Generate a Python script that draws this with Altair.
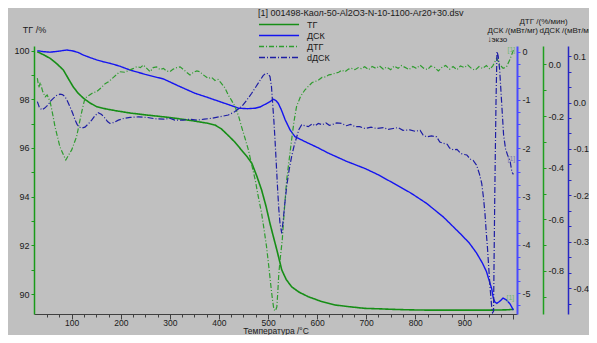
import altair as alt
import pandas as pd

FONT = "Liberation Sans Narrow, Arial Narrow, Liberation Sans, Arial, sans-serif"
FS = 9

# ---------------- data ----------------
T_TG = [30, 45, 56, 70, 83, 93, 103, 113, 124, 137,
        151, 170, 192, 220, 253, 290, 321, 351, 375, 392,
        405, 418, 432, 446, 457, 467, 477, 487, 496, 504,
        511, 518, 523, 528, 537, 548, 563, 582, 608, 637,
        665, 698, 730, 755, 790, 823, 870, 920, 959, 985, 1000]
TG = [99.95, 99.8, 99.68, 99.45, 99.2, 98.85, 98.51, 98.25, 98.04, 97.85,
      97.69, 97.6, 97.52, 97.43, 97.35, 97.27, 97.19, 97.1, 97.02, 96.94,
      96.78, 96.53, 96.25, 95.91, 95.65, 95.37, 94.85, 94.27, 93.6, 92.9,
      92.35, 91.81, 91.4, 90.99, 90.6, 90.3, 90.08, 89.89, 89.7, 89.55,
      89.48, 89.41, 89.39, 89.37, 89.35, 89.34, 89.34, 89.34, 89.34, 89.35, 89.37]

T_DSC = [30, 43, 56, 73, 90, 103, 114, 124, 137, 151,
         165, 178, 198, 219, 250, 287, 320, 351, 372, 392,
         415, 440, 458, 474, 485, 494, 503, 511, 516, 521,
         527, 535, 545, 555, 575, 600, 623, 660, 698, 725,
         755, 790, 823, 857, 891, 910, 925, 937, 945, 951,
         956, 959, 962, 966, 972, 979, 986, 993, 1000]
DSC = [0.02, 0.0, -0.01, 0.01, 0.035, 0.015, -0.02, -0.07, -0.12, -0.17,
       -0.21, -0.24, -0.3, -0.38, -0.47, -0.565, -0.72, -0.86, -0.93, -1.0,
       -1.08, -1.17, -1.18, -1.17, -1.14, -1.09, -1.04, -0.985, -1.01, -1.07,
       -1.2, -1.41, -1.62, -1.76, -1.86, -1.98, -2.1, -2.27, -2.42, -2.55,
       -2.72, -2.92, -3.14, -3.42, -3.76, -3.96, -4.17, -4.38, -4.55, -4.75,
       -4.92, -5.1, -5.18, -5.21, -5.17, -5.1, -5.14, -5.22, -5.35]

T_DTG = [30, 33, 36, 41, 46, 50, 56, 61, 66, 71,
         76, 82, 88, 94, 100, 105, 110, 117, 122, 127,
         135, 143, 151, 160, 168, 175, 185, 198, 208, 219,
         226, 233, 240, 246, 253, 260, 266, 273, 280, 287,
         293, 300, 307, 314, 321, 328, 334, 341, 348, 355,
         361, 368, 378, 385, 392, 398, 405, 412, 419, 426,
         433, 440, 446, 453, 460, 467, 474, 480, 487, 492,
         497, 502, 506, 509, 512, 515, 518, 520, 522, 525,
         529, 533, 538, 543, 548, 553, 558, 566, 575, 582,
         590, 597, 603, 610, 617, 624, 630, 637, 644, 650,
         657, 664, 670, 677, 684, 690, 697, 705, 712, 720,
         727, 735, 742, 750, 757, 765, 772, 780, 787, 795,
         802, 810, 817, 825, 832, 840, 847, 855, 862, 870,
         877, 885, 892, 900, 907, 915, 922, 930, 937, 945,
         952, 958, 966, 972, 979, 986, 993, 1000]
DTG = [-0.053, -0.09, -0.07, -0.105, -0.125, -0.118, -0.144, -0.19, -0.241, -0.28,
       -0.319, -0.345, -0.37, -0.35, -0.331, -0.305, -0.28, -0.215, -0.17, -0.131,
       -0.12, -0.11, -0.105, -0.09, -0.075, -0.067, -0.05, -0.028, -0.03, -0.021,
       -0.015, -0.008, -0.012, -0.002, -0.015, -0.028, -0.012, -0.009, -0.02, -0.015,
       -0.025, -0.028, -0.018, -0.012, -0.009, -0.02, -0.03, -0.041, -0.03, -0.025,
       -0.028, -0.04, -0.054, -0.05, -0.062, -0.058, -0.073, -0.09, -0.118, -0.14,
       -0.164, -0.2, -0.241, -0.285, -0.331, -0.39, -0.448, -0.51, -0.577, -0.64,
       -0.706, -0.79, -0.861, -0.91, -0.95, -0.955, -0.939, -0.88, -0.81, -0.75,
       -0.68, -0.57, -0.448, -0.37, -0.293, -0.22, -0.164, -0.125, -0.099, -0.085,
       -0.07, -0.065, -0.06, -0.05, -0.048, -0.04, -0.038, -0.034, -0.03, -0.022,
       -0.028, -0.018, -0.015, -0.02, -0.012, -0.016, -0.009, -0.02, -0.008, -0.015,
       -0.005, -0.018, -0.01, -0.02, -0.006, -0.015, -0.004, -0.012, -0.02, -0.008,
       -0.015, -0.003, -0.014, -0.02, -0.006, -0.012, -0.025, -0.01, -0.004, -0.018,
       -0.008, -0.02, -0.006, -0.012, -0.002, -0.016, -0.022, -0.008, -0.015, -0.004,
       -0.018, -0.005, 0.024, 0.0, -0.015, -0.009, 0.02, 0.056]

T_DDSC = [30, 34, 39, 45, 52, 57, 62.5, 69, 76, 81,
          86, 91, 96.5, 102, 107, 111, 115.5, 121, 127, 134,
          140.7, 147, 154, 161, 168, 173, 178, 186, 195, 207,
          219, 236, 253, 270, 287, 300, 310, 327, 340, 355,
          370, 385, 400, 419, 432, 446, 456, 466.8, 476, 484,
          490, 495.4, 500, 504, 507, 509, 512, 514.3, 517, 519.7,
          522, 524.4, 528, 531, 534, 538, 543, 548, 553, 558.5,
          563, 568.6, 575, 582, 590, 596, 602.5, 610, 618, 625,
          630, 640, 650, 660, 668, 677.5, 687, 697.6, 710, 721,
          735, 745, 755, 765, 775, 789, 800, 810, 816, 823,
          833, 843.5, 850, 857, 865, 870, 877.5, 885, 893, 900,
          905, 912, 918, 925, 931, 935.4, 939, 942, 945, 947,
          950, 952.3, 955.7, 957.5, 959.5, 962, 964.5, 966.5, 969, 972,
          976, 980, 984, 988, 993, 997, 1000]
DDSC = [0.002, -0.01, -0.016, -0.012, -0.005, 0.003, 0.009, 0.015, 0.018, 0.017,
        0.013, 0.004, -0.009, -0.023, -0.038, -0.047, -0.053, -0.055, -0.053, -0.046,
        -0.038, -0.029, -0.022, -0.026, -0.034, -0.041, -0.045, -0.043, -0.038, -0.034,
        -0.032, -0.031, -0.032, -0.035, -0.036, -0.034, -0.038, -0.038, -0.036, -0.038,
        -0.036, -0.034, -0.031, -0.027, -0.02, -0.009, 0.004, 0.02, 0.035, 0.048,
        0.058, 0.063, 0.062, 0.056, 0.035, 0.005, -0.04, -0.081, -0.135, -0.189,
        -0.23, -0.26, -0.282, -0.253, -0.22, -0.181, -0.145, -0.117, -0.094, -0.074,
        -0.058, -0.048, -0.05, -0.052, -0.046, -0.05, -0.045, -0.048, -0.044, -0.049,
        -0.048, -0.044, -0.045, -0.05, -0.047, -0.052, -0.052, -0.056, -0.053, -0.056,
        -0.054, -0.058, -0.056, -0.054, -0.06, -0.059, -0.062, -0.06, -0.07, -0.074,
        -0.072, -0.074, -0.085, -0.088, -0.09, -0.098, -0.102, -0.101, -0.11, -0.112,
        -0.113, -0.122, -0.125, -0.135, -0.155, -0.174, -0.205, -0.239, -0.285, -0.311,
        -0.36, -0.397, -0.44, -0.453, -0.45, -0.2, 0.0, 0.11, 0.1, 0.07,
        0.0, -0.07, -0.1, -0.113, -0.125, -0.15, -0.155]

SERIES = ["ТГ", "ДСК", "ДТГ", "dДСК"]
COLORS = ["#168e16", "#1414f0", "#2f9c2f", "#1e1ea4"]
DASHES = [[1, 0], [1, 0], [5, 2, 1, 2], [6, 2, 1, 2]]
LEGEND_TITLE = "[1] 001498-Каол-50-Al2O3-N-10-1100-Ar20+30.dsv"

X_DOMAIN = [23.2, 1007.3]
X_TICKS = list(range(50, 1001, 25))
X_MAJOR = list(range(100, 1001, 100))
TG_DOMAIN = [89.18, 100.185]
TG_TICKS = list(range(90, 101))
DSC_DOMAIN = [-5.431, 0.118]
DSC_TICKS = [0.0] + [-k * 0.25 for k in range(1, 22)]
DTG_DOMAIN = [-0.967, 0.0717]
DTG_TICKS = [0.0] + [-k / 10 for k in range(1, 10)]
DDSC_DOMAIN = [-0.4558, 0.1218]
DDSC_TICKS = [0.1 - k / 30 for k in range(0, 17)]

MINUS = "\u2212"

# ---------------- chart ----------------
legend = alt.Legend(
    title=LEGEND_TITLE, orient="none", legendX=224, legendY=-37,
    symbolType="M-1,0H7.9", symbolSize=81, symbolStrokeWidth=1.3,
    labelOffset=38, rowPadding=0, padding=0, titlePadding=1,
    titleFont=FONT, titleFontSize=FS, titleFontWeight="normal", titleColor="#1a1a1a",
    titleLimit=400, labelFont=FONT, labelFontSize=FS, labelColor="#1a1a1a",
)
color_enc = alt.Color("series:N", scale=alt.Scale(domain=SERIES, range=COLORS), legend=legend)
dash_enc = alt.StrokeDash("series:N", scale=alt.Scale(domain=SERIES, range=DASHES), legend=legend)


def xscale():
    return alt.Scale(domain=X_DOMAIN, nice=False, zero=False)


# main x axis: minor ticks every 25 degrees, labels at 100..900
x_axis = alt.Axis(
    values=X_TICKS, title="Температура /°C", grid=False, labelOverlap=False,
    labelExpr="datum.value % 100 === 0 && datum.value < 1000 ? toString(datum.value) : ''",
    tickSize=3, orient="bottom",
    domainColor="#404040", tickColor="#404040", labelColor="#1a1a1a",
    labelFont=FONT, labelFontSize=8.5, titleFont=FONT, titleFontSize=8.5,
    titleFontWeight="normal", titleColor="#1a1a1a", labelPadding=1, titlePadding=0,
)
# second x axis on an identical scale: the longer ticks at every 100 degrees
x_major_axis = alt.Axis(
    values=X_MAJOR, orient="bottom", labels=False, domain=False, grid=False,
    tickSize=5, tickColor="#404040", title="",
)


def yaxis(orient, offset, values, label_expr, color, title, tx, ty, talign, width, tfs):
    return alt.Axis(
        orient=orient, offset=offset, values=values, grid=False,
        labelOverlap=False, labelExpr=label_expr, tickSize=3,
        domainColor=color, tickColor=color, domainWidth=width, tickWidth=1,
        labelColor="#1a1a1a", labelFont=FONT, labelFontSize=FS, labelPadding=2,
        title=title, titleAngle=0, titleX=tx, titleY=ty, titleAlign=talign,
        titleBaseline="top", titleFont=FONT, titleFontSize=tfs, titleFontWeight="normal",
        titleColor="#1a1a1a", titleLineHeight=9,
    )


def line_layer(T, V, name, domain, axis, width, xaxis):
    df = pd.DataFrame({"T": T, "v": V, "series": name})
    return alt.Chart(df).mark_line(strokeWidth=width, clip=True).encode(
        x=alt.X("T:Q", scale=xscale(), axis=xaxis),
        y=alt.Y("v:Q", scale=alt.Scale(domain=domain, nice=False, zero=False), axis=axis),
        color=color_enc,
        strokeDash=dash_enc,
        order=alt.Order("T:Q"),
    )


def end_label(T, V, domain, color, dx, dy, xaxis):
    end = pd.DataFrame({"T": [T[-1]], "v": [V[-1]], "label": ["[1]"]})
    return alt.Chart(end).mark_text(
        font=FONT, fontSize=7, color=color, dx=dx, dy=dy, align="center", baseline="middle"
    ).encode(
        x=alt.X("T:Q", scale=xscale(), axis=xaxis),
        y=alt.Y("v:Q", scale=alt.Scale(domain=domain, nice=False, zero=False), axis=None),
        text="label:N",
    )


tg_line = line_layer(
    T_TG, TG, "ТГ", TG_DOMAIN,
    yaxis("left", 0, TG_TICKS, "datum.value % 2 === 0 ? toString(datum.value) : ''",
          "#1a9a1a", "ТГ /%", 0, -21, "center", 1.5, FS),
    1.6, x_axis)
dsc_line = line_layer(
    T_DSC, DSC, "ДСК", DSC_DOMAIN,
    yaxis("right", 0, DSC_TICKS,
          "abs(datum.value - round(datum.value)) < 0.001 ? toString(abs(round(datum.value)) > 0 ? round(datum.value) : 0) : ''",
          "#4a4aff", ["ДСК /(мВт/мг)", "↓экзо"], -30, -20, "left", 2, 8),
    1.4, None)
dtg_line = line_layer(
    T_DTG, DTG, "ДТГ", DTG_DOMAIN,
    yaxis("right", 26, DTG_TICKS,
          f"abs(round(datum.value * 10)) % 2 === 0 ? replace(format(datum.value, '.1f'), '{MINUS}', '-') : ''",
          "#1f9f1f", "ДТГ /(%/мин)", 0, -29, "center", 1.5, 8),
    1.2, None)
ddsc_line = line_layer(
    T_DDSC, DDSC, "dДСК", DDSC_DOMAIN,
    yaxis("right", 51, DDSC_TICKS,
          f"abs(round(datum.value * 30)) % 3 === 0 ? replace(format(datum.value, '.1f'), '{MINUS}', '-') : ''",
          "#2626c4", "dДСК /(мВт/мг/мин)", -29, -20, "left", 1.5, 8),
    1.2, None)

tg_end = end_label(T_TG, TG, TG_DOMAIN, "#6fb56f", -3, -11, x_major_axis)
dtg_end = end_label(T_DTG, DTG, DTG_DOMAIN, "#6fb56f", -2, 0, None)
ddsc_end = end_label(T_DDSC, DDSC, DDSC_DOMAIN, "#7a7ab0", -2, -15, None)

chart = alt.layer(
    tg_line, dsc_line, dtg_line, ddsc_line, tg_end, dtg_end, ddsc_end
).resolve_scale(
    x="independent", y="independent"
).properties(
    width=483, height=268,
    autosize=alt.AutoSizeParams(type="none"),
    padding={"left": 26, "top": 38, "right": 72, "bottom": 21},
    background="#c0c0c0",
).configure_view(strokeOpacity=0)

chart.save("out.html", embed_options={"renderer": "svg", "actions": False})
